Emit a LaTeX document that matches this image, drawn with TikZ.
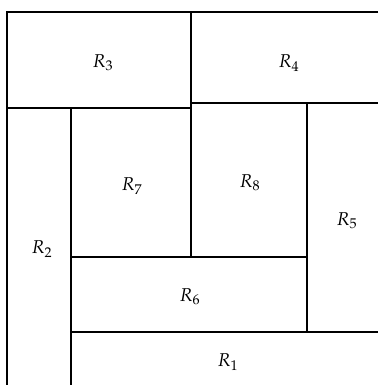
\documentclass[tikz,border=0pt]{standalone}
\usepackage{mathpazo}
\usetikzlibrary{calc}

\begin{document}
\begin{tikzpicture}[x=0.7pt,y=-0.7pt,line width=1pt]
\tikzset{lbl/.style={inner sep=0pt,font=\fontsize{13}{15}\selectfont}}
\useasboundingbox (0,0) rectangle (378,385);
% outer frame and cuts
\draw (378,12) -- (7,12) -- (7,385);
\draw (191,12) -- (191,257);
\draw (7,108) -- (191,108);
\draw (191,103) -- (378,103);
\draw (71,108) -- (71,385);
\draw (307,103) -- (307,332);
\draw (71,257) -- (307,257);
\draw (71,332) -- (378,332);
% labels
\node[lbl] (r3) at (103,63) {$R_3$};
\node[lbl] (r4) at (289,63) {$R_4$};
\node[lbl] (r7) at (132,186) {$R_7$};
\node[lbl] (r8) at (250,183) {$R_8$};
\node[lbl] (r5) at (347,221) {$R_5$};
\node[lbl] (r2) at (42,249) {$R_2$};
\node[lbl] (r6) at (190,297) {$R_6$};
\node[lbl] (r1) at (228,362) {$R_1$};
\end{tikzpicture}
\end{document}
